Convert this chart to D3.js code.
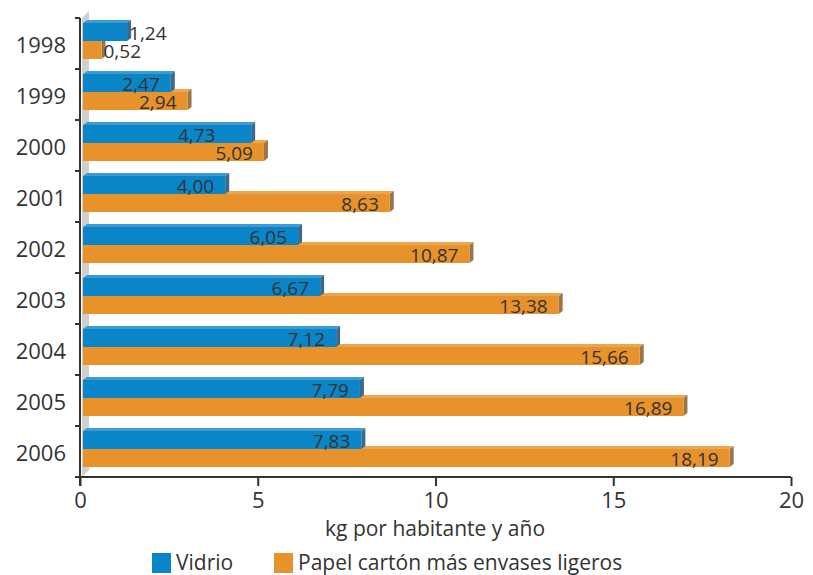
<!DOCTYPE html>
<html>
<head>
<meta charset="utf-8">
<script src="https://cdn.jsdelivr.net/npm/d3@7"></script>
<style>
  body { margin: 0; background: #fff; }
  text { font-family: "Open Sans", "DejaVu Sans", sans-serif; fill: #333; }
</style>
</head>
<body>
<svg id="chart" width="813" height="575"></svg>
<script>
var years = ["1998","1999","2000","2001","2002","2003","2004","2005","2006"];
var vidrio = [1.24, 2.47, 4.73, 4.00, 6.05, 6.67, 7.12, 7.79, 7.83];
var papel = [0.52, 2.94, 5.09, 8.63, 10.87, 13.38, 15.66, 16.89, 18.19];
var seriesNames = ["Vidrio", "Papel cartón más envases ligeros"];
var xTicks = [0, 5, 10, 15, 20];

var colors = {
    Vidrio: { front: "#0a86c8", top: "#3c9bd0", side: "#3d6a8c" },
    Papel: { front: "#e8922b", top: "#eda650", side: "#9a7548" }
};

var svg = d3.select("#chart");
svg.append("rect").attr("width", 813).attr("height", 575).attr("fill", "#fff");

var xScale = d3.scaleLinear().domain([0, 20]).range([80, 791]);
var yScale = d3.scaleBand().domain(years).range([18, 477]);

var dx = 4, dy = -3, shift = 3, barH = 18;
var fmt = function(v){ return d3.format(".2f")(v).replace(".", ","); };

// gray side wall
var x0 = xScale(0) + shift;
svg.append("polygon")
    .attr("points", [[x0 - 1, 18], [x0 + 6, 11], [x0 + 6, 470], [x0 - 1, 477]].join(" "))
    .attr("fill", "#cfcfcf");

function bar3d(g, v, yTop, c)
{
    var x1 = xScale(v) + shift;
    g.append("polygon")
        .attr("points", [[x0, yTop], [x0 + dx, yTop + dy], [x1 + dx, yTop + dy], [x1, yTop]].join(" "))
        .attr("fill", c.top);
    g.append("polygon")
        .attr("points", [[x1, yTop], [x1 + dx, yTop + dy], [x1 + dx, yTop + barH + dy], [x1, yTop + barH]].join(" "))
        .attr("fill", c.side);
    g.append("rect")
        .attr("x", x0).attr("y", yTop)
        .attr("width", x1 - x0).attr("height", barH)
        .attr("fill", c.front);
}

function label(g, v, yTop, rightEdge)
{
    var x1 = xScale(v) + shift;
    var t = g.append("text")
        .text(fmt(v))
        .attr("y", yTop + barH - 1)
        .attr("font-size", 19);
    if (v < 1.5)
        t.attr("x", x1 + 2).attr("text-anchor", "start");
    else
        t.attr("x", rightEdge !== undefined ? rightEdge : x1 - 11).attr("text-anchor", "end");
    return t;
}

years.forEach(function(yr, i)
{
    var g = svg.append("g");
    var yb = yScale(yr);
    bar3d(g, papel[i], yb + 23, colors.Papel);
    bar3d(g, vidrio[i], yb + 5, colors.Vidrio);
    var tp = label(g, papel[i], yb + 23);
    var gap = xScale(papel[i]) - xScale(vidrio[i]);
    // when both bars end close together, push the upper label left of the lower one
    if (papel[i] >= 1.5 && gap >= 0 && gap < 15)
        label(g, vidrio[i], yb + 5, tp.node().getBBox().x);
    else
        label(g, vidrio[i], yb + 5);
});

// y axis
svg.append("line")
    .attr("x1", 80).attr("x2", 80).attr("y1", 18).attr("y2", 486)
    .attr("stroke", "#333").attr("stroke-width", 2);
svg.selectAll(".ytick")
    .data(years.concat(["end"]))
    .enter()
    .append("line")
    .attr("x1", 75).attr("x2", 80)
    .attr("y1", function(d, i){ return 18 + i * yScale.bandwidth(); })
    .attr("y2", function(d, i){ return 18 + i * yScale.bandwidth(); })
    .attr("stroke", "#333").attr("stroke-width", 2);
svg.selectAll(".ylabel")
    .data(years)
    .enter()
    .append("text")
    .text(function(d){ return d; })
    .attr("x", 66)
    .attr("y", function(d){ return yScale(d) + yScale.bandwidth() / 2 + 9; })
    .attr("text-anchor", "end")
    .attr("font-size", 22);

// x axis
var xAxis = d3.axisBottom(xScale).tickValues(xTicks).tickSize(9).tickPadding(6).tickFormat(d3.format("d"));
var xg = svg.append("g").attr("transform", "translate(0,477)").call(xAxis);
xg.select(".domain").attr("stroke", "#333").attr("stroke-width", 2).attr("d", "M79,0H791");
xg.selectAll(".tick line").attr("stroke", "#333").attr("stroke-width", 2);
xg.selectAll(".tick text").attr("font-size", 22).attr("fill", "#333")
    .style("font-family", "'Open Sans', 'DejaVu Sans', sans-serif");

svg.append("text")
    .text("kg por habitante y año")
    .attr("x", 435).attr("y", 536)
    .attr("text-anchor", "middle")
    .attr("font-size", 21);

// legend
var legend = svg.append("g");
var legendX = [152, 274];
var legendColor = d3.scaleOrdinal().domain(seriesNames).range([colors.Vidrio.front, colors.Papel.front]);
legend.selectAll("rect")
    .data(seriesNames)
    .enter()
    .append("rect")
    .attr("x", function(d, i){ return legendX[i]; })
    .attr("y", 553).attr("width", 19).attr("height", 20)
    .attr("fill", function(d){ return legendColor(d); });
legend.selectAll("text")
    .data(seriesNames)
    .enter()
    .append("text")
    .text(function(d){ return d; })
    .attr("x", function(d, i){ return legendX[i] + 24; })
    .attr("y", 570)
    .attr("font-size", 21);
</script>
</body>
</html>
